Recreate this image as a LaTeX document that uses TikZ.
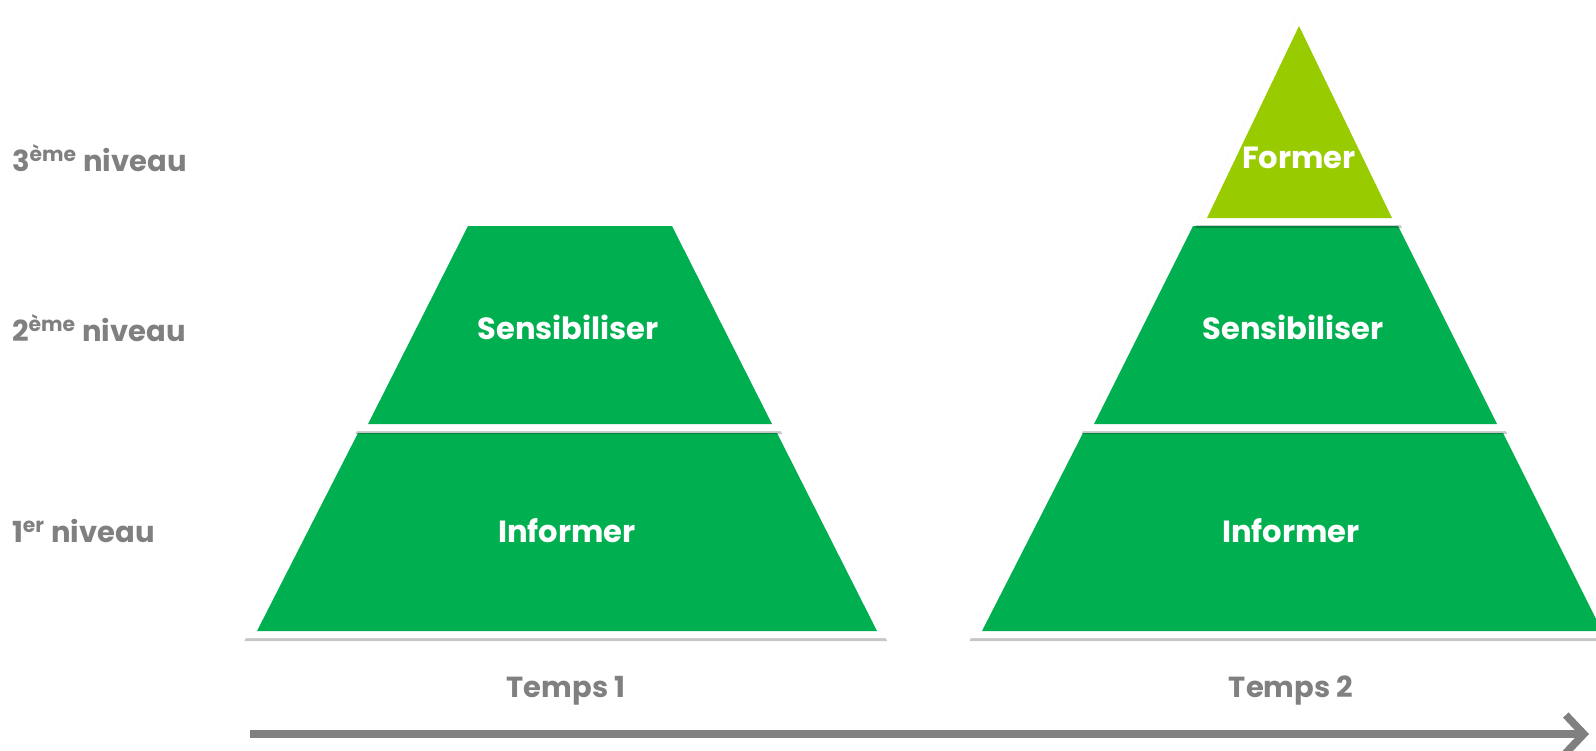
\documentclass[tikz,border=0pt]{standalone}
\usepackage{fontspec}
\setmainfont{Poppins}
\usetikzlibrary{arrows.meta}
\definecolor{dkgreen}{HTML}{00B050}
\definecolor{ltgreen}{HTML}{99CC00}
\definecolor{txtgray}{HTML}{808080}

\begin{document}
\begin{tikzpicture}[x=0.5pt,y=-0.5pt,
    tier/.style={line join=round,
      preaction={draw=black,fill=black,line width=7pt,opacity=0.22,
        transform canvas={shift={(-0.6pt,-1.5pt)}}},
      preaction={draw=white,line width=7pt}},
    inlabel/.style={text=white,font=\bfseries\fontsize{15.3}{17}\selectfont},
    sidelabel/.style={text=txtgray,anchor=west,font=\bfseries\fontsize{14.5}{16}\selectfont},
    timelabel/.style={text=txtgray,font=\bfseries\fontsize{14.5}{16}\selectfont}]

  % temps 1
  \path[tier,fill=dkgreen] (358,433) -- (777,433) -- (877,631) -- (257,631) -- cycle;
  \path[tier,fill=dkgreen] (468,226) -- (672,226) -- (772,424) -- (368,424) -- cycle;
  \node[inlabel] (inf1) at (567,531) {Informer};
  \node[inlabel] (sens1) at (568,327) {Sensibiliser};

  % temps 2
  \path[tier,fill=dkgreen] (1083,433) -- (1503,433) -- (1602,631) -- (982,631) -- cycle;
  \path[tier,fill=dkgreen] (1193,226) -- (1398,226) -- (1497,424) -- (1094,424) -- cycle;
  \path[tier,fill=ltgreen] (1299,26) -- (1392,218) -- (1207,218) -- cycle;
  \node[inlabel] (inf2) at (1291,531) {Informer};
  \node[inlabel] (sens2) at (1293,327) {Sensibiliser};
  \node[inlabel] (form2) at (1299,158) {Former};

  % niveaux
  \node[sidelabel] (niv3) at (5,158) {3\textsuperscript{ème} niveau};
  \node[sidelabel] (niv2) at (5,328) {2\textsuperscript{ème} niveau};
  \node[sidelabel] (niv1) at (5,531) {1\textsuperscript{er} niveau};

  \node[timelabel] (t1) at (566,691) {Temps 1};
  \node[timelabel] (t2) at (1291,691) {Temps 2};

  \coordinate (start) at (250,734);
  \coordinate (stop) at (1589,734);
  \draw[txtgray,line width=3.8pt,-{Straight Barb[length=9pt,width=19pt]}] (start) -- (stop);

  \pgfresetboundingbox
  \useasboundingbox (0,0) rectangle (1596,750);
\end{tikzpicture}
\end{document}
